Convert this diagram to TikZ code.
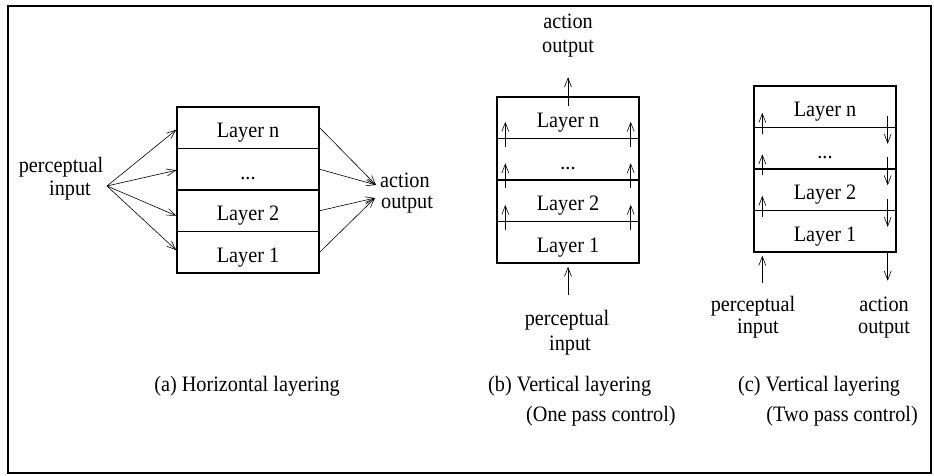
\documentclass[tikz,border=0pt]{standalone}
\usepackage{fontspec}
\setmainfont{Liberation Serif}[FakeStretch=0.92]
\usetikzlibrary{arrows.meta}
\begin{document}
\begin{tikzpicture}[x=1pt,y=-1pt,
  every node/.style={font=\fontsize{22}{26}\selectfont, inner sep=0pt},
  layer/.style={draw, line width=1.4pt, minimum width=142pt, minimum height=41.5pt, text height=20pt, text depth=0pt},
  lbl/.style={anchor=base},
  arr/.style={line width=0.6pt, -{Straight Barb[length=9pt,width=7pt,line width=0.6pt]}}]
\useasboundingbox (0,0) rectangle (934,476);
\node[draw, line width=1.8pt, minimum width=923pt, minimum height=467pt, anchor=north west] (frame) at (7,5) {};

% ---------- (a) horizontal layering ----------
\node[layer] (aLn) at (248,127.75) {Layer n};
\node[layer] (aDt) at (248,169.25) {...};
\node[layer] (aL2) at (248,210.75) {Layer 2};
\node[layer] (aL1) at (248,252.25) {Layer 1};
\node[lbl] (aPer) at (61,172) {perceptual};
\node[lbl] (aInp) at (70,195) {input};
\coordinate (aPin) at (107,186);
\draw[arr] (aPin) -- ([yshift=-2pt]aLn.west);
\draw[arr] (aPin) -- ([yshift=-1pt]aDt.west);
\draw[arr] (aPin) -- ([yshift=-5pt]aL2.west);
\draw[arr] (aPin) -- ([yshift=2pt]aL1.west);
\node[anchor=base west] (aAct) at (380,187) {action};
\node[anchor=base west] (aOut) at (381,208) {output};
\coordinate (aT1) at (376,185);
\coordinate (aT2) at (375,198);
\draw[arr] (aLn.east) -- (aT1);
\draw[arr] (aDt.east) -- (aT1);
\draw[arr] (aL2.east) -- (aT2);
\draw[arr] (aL1.east) -- (aT2);
\node[lbl] (aCap) at (247,391) {(a) Horizontal layering};

% ---------- (b) vertical layering, one pass ----------
\node[layer] (bLn) at (568,117.75) {Layer n};
\node[layer] (bDt) at (568,159.25) {...};
\node[layer] (bL2) at (568,200.75) {Layer 2};
\node[layer] (bL1) at (568,242.25) {Layer 1};
\node[lbl] (bAct) at (568,29) {action};
\node[lbl] (bOut) at (568,53) {output};
\draw[arr] ([yshift=-10pt]bLn.north) -- ([yshift=19pt]bLn.north);
\foreach \r in {bDt,bL2,bL1}{
  \draw[arr] ([xshift=9pt,yshift=-9pt]\r.north west) -- ([xshift=9pt,yshift=16pt]\r.north west);
  \draw[arr] ([xshift=-9pt,yshift=-9pt]\r.north east) -- ([xshift=-9pt,yshift=16pt]\r.north east);
}
\node[lbl] (bPer) at (567,325) {perceptual};
\node[lbl] (bInp) at (570,350) {input};
\draw[arr] ([yshift=-31pt]bL1.south) -- ([yshift=-3pt]bL1.south);
\node[anchor=base west] (bCap) at (488,391) {(b) Vertical layering};
\node[anchor=base west] (bCap2) at (526,421) {(One pass control)};

% ---------- (c) vertical layering, two pass ----------
\node[layer] (cLn) at (825,106.75) {Layer n};
\node[layer] (cDt) at (825,148.25) {...};
\node[layer] (cL2) at (825,189.75) {Layer 2};
\node[layer] (cL1) at (825,231.25) {Layer 1};
\foreach \r in {cDt,cL2,cL1}{
  \draw[arr] ([xshift=9pt,yshift=-7pt]\r.north west) -- ([xshift=9pt,yshift=14pt]\r.north west);
  \draw[arr] ([xshift=-9pt,yshift=11pt]\r.north east) -- ([xshift=-9pt,yshift=-17pt]\r.north east);
}
\draw[arr] ([xshift=9pt,yshift=-30pt]cL1.south west) -- ([xshift=9pt,yshift=-3pt]cL1.south west);
\draw[arr] ([xshift=-9pt]cL1.south east) -- ([xshift=-9pt,yshift=-28pt]cL1.south east);
\node[lbl] (cPer) at (753,311) {perceptual};
\node[lbl] (cInp) at (758,333) {input};
\node[lbl] (cAct) at (884,311) {action};
\node[lbl] (cOut) at (884,333) {output};
\node[anchor=base west] (cCap) at (738,391) {(c) Vertical layering};
\node[anchor=base east] (cCap2) at (918,421) {(Two pass control)};
\end{tikzpicture}
\end{document}
